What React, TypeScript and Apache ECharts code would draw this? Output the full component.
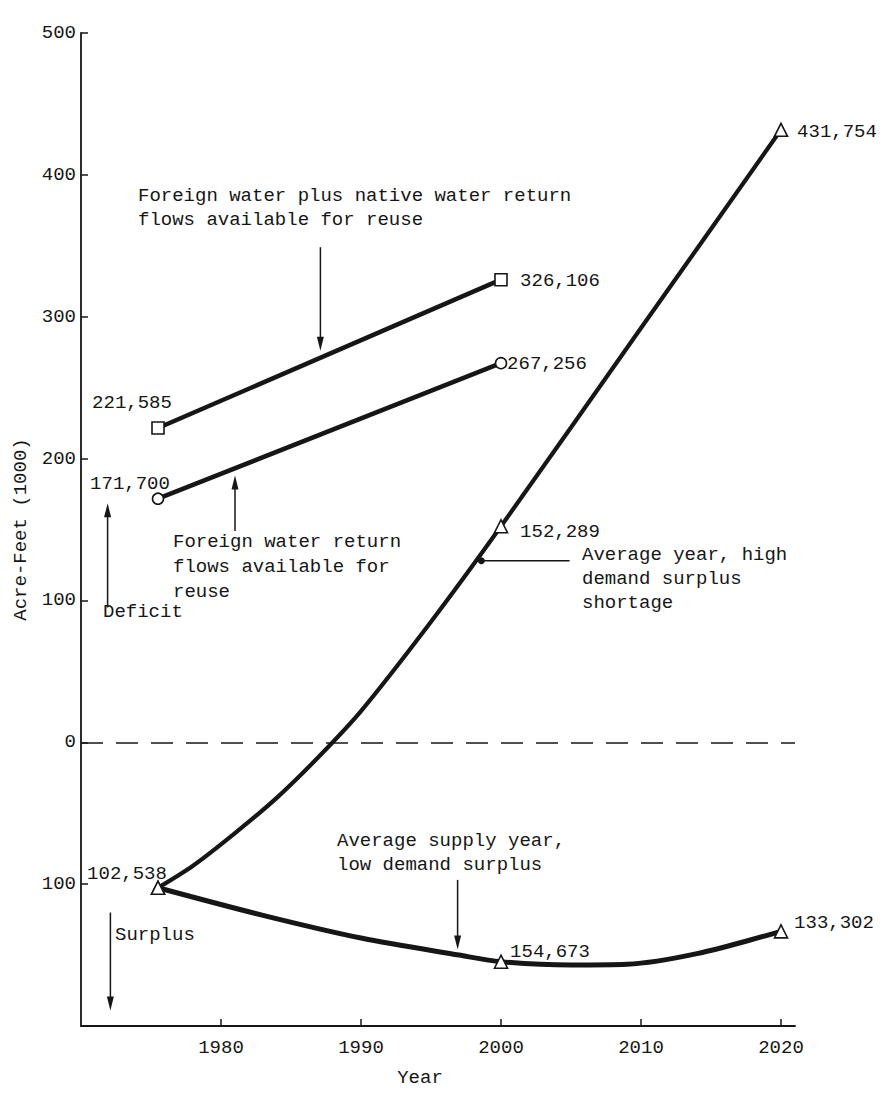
import React, { useEffect, useRef } from "react";
import * as echarts from "echarts";

const FONT = "'Liberation Mono', 'Courier New', monospace";
const INK = "#161616";

// ---- data ----
const reuseYears = [1975.5, 2000];
const nativePlusForeign = [221.585, 326.106];
const nativePlusForeignLabels = ["221,585", "326,106"];
const foreignReturn = [171.7, 267.256];
const foreignReturnLabels = ["171,700", "267,256"];

const markerYears = [1975.5, 2000, 2020];
const highDemandMarkers = [-102.538, 152.289, 431.754];
const highDemandLabels = ["102,538", "152,289", "431,754"];
const lowDemandMarkers = [-102.538, -154.673, -133.302];
const lowDemandLabels = ["", "154,673", "133,302"];

const highCurveYears = [1975.5, 1978, 1981, 1984, 1987, 1990, 1995, 2000, 2010, 2020];
const highCurveValues = [-102.538, -87, -64, -39, -10, 22, 85, 152.289, 292, 431.754];
const lowCurveYears = [1975.5, 1983, 1990, 1997, 2000, 2005, 2009, 2014, 2020];
const lowCurveValues = [-102.538, -122, -138, -150, -154.673, -157, -156.5, -149, -133.302];

const xTicks = [1980, 1990, 2000, 2010, 2020];
const yTicks = [-100, 0, 100, 200, 300, 400, 500];

// ---- layout (label offsets in px from marker centre) ----
const nativeOffsets = [[-26, -25], [59, 1]];
const foreignOffsets = [[-28, -15], [46, 1]];
const highOffsets = [[-31, -14], [59, 6], [56, 2]];
const lowOffsets = [[0, 0], [49, -10], [53, -8]];

const zip = (xs: number[], ys: number[]) => xs.map((x, i) => [x, ys[i]]);

function markerSeries(
  name: string,
  xs: number[],
  ys: number[],
  labels: string[],
  offsets: number[][],
  symbol: string,
  size: number
) {
  return {
    name,
    type: "scatter",
    z: 5,
    symbol,
    symbolSize: size,
    itemStyle: { color: "#ffffff", borderColor: INK, borderWidth: 1.6, opacity: 1 },
    emphasis: { disabled: true },
    data: xs.map((x, i) => ({
      value: [x, ys[i]],
      label: {
        show: labels[i] !== "",
        formatter: labels[i],
        position: "inside",
        offset: offsets[i],
        fontFamily: FONT,
        fontSize: 19,
        color: INK,
        opacity: 1,
      },
    })),
  };
}

function lineSeries(name: string, data: number[][], width: number, smooth: number | boolean) {
  return {
    name,
    type: "line",
    data,
    smooth,
    showSymbol: false,
    symbol: "none",
    lineStyle: { color: INK, width, cap: "round", opacity: 1 },
    emphasis: { disabled: true },
    z: 3,
  };
}

// annotations in data coordinates
const arrows = [
  { from: [1987.1, 349], to: [1987.1, 276] },
  { from: [1981, 149], to: [1981, 188] },
  { from: [1971.9, 95], to: [1971.9, 168.5] },
  { from: [1972.1, -120], to: [1972.1, -189] },
  { from: [1996.9, -97], to: [1996.9, -146] },
];
const pointer = { from: [2004.9, 128], to: [1998.6, 128] };

const notes = [
  { text: "Foreign water plus native water return\nflows available for reuse", x: 138, y: 184, lh: 24 },
  { text: "Foreign water return\nflows available for\nreuse", x: 173, y: 529, lh: 25 },
  { text: "Average year, high\ndemand surplus\nshortage", x: 582, y: 543, lh: 24 },
  { text: "Average supply year,\nlow demand surplus", x: 337, y: 829, lh: 24 },
  { text: "Deficit", x: 103, y: 600, lh: 24 },
  { text: "Surplus", x: 115, y: 923, lh: 24 },
];

export default function App() {
  const ref = useRef<HTMLDivElement>(null);

  useEffect(() => {
    document.body.style.margin = "0";
    if (!ref.current) return;
    const chart = echarts.init(ref.current, undefined, { renderer: "svg" });

    const option: any = {
      animation: false,
      backgroundColor: "#ffffff",
      grid: { left: 81, top: 33, width: 714, height: 993, containLabel: false },
      xAxis: {
        type: "value",
        min: 1970,
        max: 2021,
        interval: 10,
        axisLine: { show: true, onZero: false, lineStyle: { color: INK, width: 1.8 } },
        axisTick: { show: true, inside: true, length: 7, customValues: xTicks, lineStyle: { color: INK, width: 1.5 } },
        axisLabel: {
          customValues: xTicks,
          margin: 12,
          fontFamily: FONT,
          fontSize: 19,
          color: INK,
          formatter: (v: number) => String(v),
        },
        splitLine: { show: false },
      },
      yAxis: {
        type: "value",
        min: -200,
        max: 500,
        interval: 100,
        name: "Acre-Feet (1000)",
        nameLocation: "middle",
        nameRotate: 90,
        nameGap: 47,
        nameTextStyle: { fontFamily: FONT, fontSize: 19, color: INK },
        axisLine: { show: true, onZero: false, lineStyle: { color: INK, width: 1.8 } },
        axisTick: { show: true, inside: true, length: 7, customValues: yTicks, lineStyle: { color: INK, width: 1.5 } },
        axisLabel: {
          customValues: yTicks,
          margin: 5,
          fontFamily: FONT,
          fontSize: 19,
          color: INK,
          padding: [0, 0, 8, 0],
          formatter: (v: number) => String(Math.abs(v)),
        },
        splitLine: { show: false },
      },
      series: [
        lineSeries("Foreign water plus native water return flows", zip(reuseYears, nativePlusForeign), 4.5, false),
        lineSeries("Foreign water return flows", zip(reuseYears, foreignReturn), 4.5, false),
        lineSeries("Average year, high demand", zip(highCurveYears, highCurveValues), 4.2, 0.3),
        {
          ...lineSeries("Average supply year, low demand", zip(lowCurveYears, lowCurveValues), 5, 0.3),
          markLine: {
            silent: true,
            symbol: "none",
            label: { show: false },
            lineStyle: { color: INK, width: 1.7, type: [22, 13], opacity: 1 },
            emphasis: { disabled: true },
            data: [{ yAxis: 0 }],
          },
        },
        markerSeries("native+foreign", reuseYears, nativePlusForeign, nativePlusForeignLabels, nativeOffsets, "rect", 12),
        markerSeries("foreign", reuseYears, foreignReturn, foreignReturnLabels, foreignOffsets, "circle", 11),
        markerSeries("high", markerYears, highDemandMarkers, highDemandLabels, highOffsets, "triangle", 13),
        markerSeries("low", markerYears, lowDemandMarkers, lowDemandLabels, lowOffsets, "triangle", 13),
      ],
    };
    chart.setOption(option);

    const px = (p: number[]) => chart.convertToPixel({ gridIndex: 0 }, p) as number[];
    const graphics: any[] = [];
    const arrowShape = (a: number[], b: number[], headLen: number, headW: number) => {
      const dx = b[0] - a[0];
      const dy = b[1] - a[1];
      const L = Math.hypot(dx, dy) || 1;
      const ux = dx / L, uy = dy / L;
      const bx = b[0] - ux * headLen, by = b[1] - uy * headLen;
      const nx = -uy * headW / 2, ny = ux * headW / 2;
      graphics.push({
        type: "line",
        z: 10,
        shape: { x1: a[0], y1: a[1], x2: bx + ux * 2, y2: by + uy * 2 },
        style: { stroke: INK, lineWidth: 1.5 },
      });
      graphics.push({
        type: "polygon",
        z: 10,
        shape: { points: [[b[0], b[1]], [bx + nx, by + ny], [bx - nx, by - ny]] },
        style: { fill: INK },
      });
    };
    arrows.forEach((ar) => arrowShape(px(ar.from), px(ar.to), 14, 7));
    const pa = px(pointer.from), pb = px(pointer.to);
    graphics.push({
      type: "line",
      z: 10,
      shape: { x1: pa[0], y1: pa[1], x2: pb[0], y2: pb[1] },
      style: { stroke: INK, lineWidth: 1.4 },
    });
    graphics.push({
      type: "circle",
      z: 10,
      shape: { cx: pb[0], cy: pb[1], r: 3.5 },
      style: { fill: INK },
    });
    notes.forEach((n) => {
      graphics.push({
        type: "text",
        z: 10,
        x: n.x,
        y: n.y,
        style: {
          text: n.text,
          fontFamily: FONT,
          fontSize: 19,
          lineHeight: n.lh,
          fill: INK,
          textAlign: "left",
          textVerticalAlign: "top",
        },
      });
    });
    graphics.push({
      type: "text",
      z: 10,
      x: 420,
      y: 1078,
      style: {
        text: "Year",
        fontFamily: FONT,
        fontSize: 19,
        fill: INK,
        textAlign: "center",
        textVerticalAlign: "middle",
      },
    });
    chart.setOption({ graphic: graphics });

    return () => chart.dispose();
  }, []);

  return <div ref={ref} style={{ width: 882, height: 1099, background: "#fff" }} />;
}
